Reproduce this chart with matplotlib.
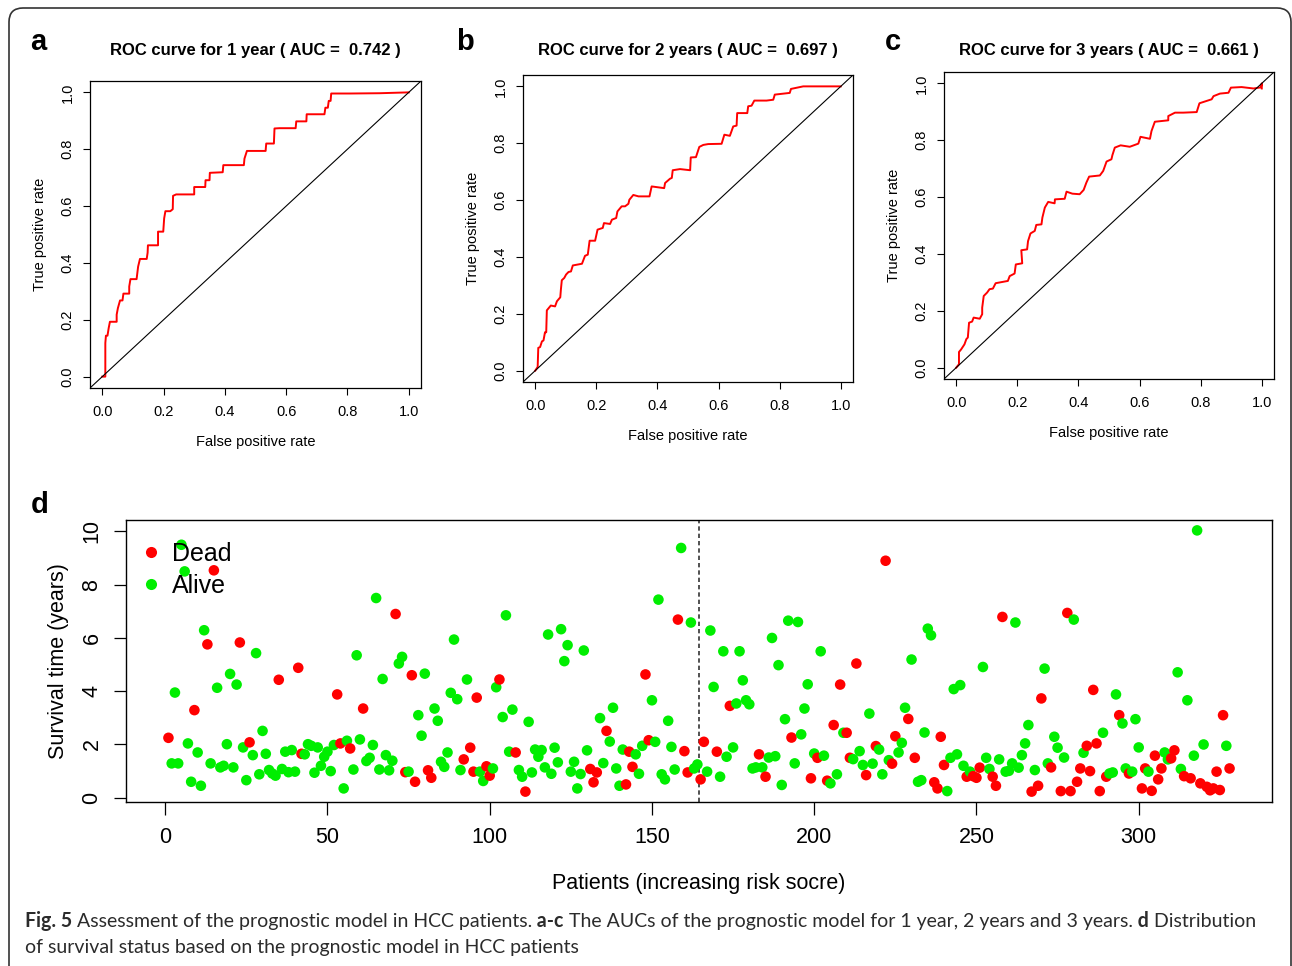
import matplotlib.pyplot as plt
import numpy as np
from matplotlib.lines import Line2D
from matplotlib.patches import FancyBboxPatch
from matplotlib.transforms import IdentityTransform

plt.rcParams["font.family"] = ["Liberation Sans", "DejaVu Sans"]

# ROC curves (a-c)
roc1_fpr = [0.0, 0.01, 0.01, 0.012, 0.017, 0.021, 0.025, 0.047, 0.047, 0.051, 0.058, 0.066, 0.069, 0.088,
            0.088, 0.092, 0.112, 0.117, 0.123, 0.145, 0.148, 0.149, 0.182, 0.182, 0.199, 0.202, 0.206,
            0.222, 0.230, 0.231, 0.241, 0.300, 0.300, 0.336, 0.337, 0.350, 0.351, 0.393, 0.395, 0.462,
            0.464, 0.472, 0.533, 0.535, 0.560, 0.562, 0.578, 0.631, 0.633, 0.666, 0.667, 0.725, 0.728,
            0.736, 0.739, 0.745, 0.747, 0.807, 0.905, 1.0]
roc1_tpr = [0.0, 0.0, 0.118, 0.144, 0.144, 0.171, 0.193, 0.193, 0.218, 0.241, 0.268, 0.268, 0.292, 0.292,
            0.317, 0.343, 0.343, 0.387, 0.414, 0.414, 0.436, 0.462, 0.462, 0.510, 0.510, 0.557, 0.582,
            0.582, 0.589, 0.636, 0.641, 0.641, 0.667, 0.667, 0.691, 0.691, 0.717, 0.719, 0.744, 0.744,
            0.767, 0.794, 0.794, 0.820, 0.820, 0.873, 0.874, 0.874, 0.898, 0.898, 0.923, 0.923, 0.946,
            0.946, 0.970, 0.970, 0.996, 0.996, 0.997, 1.0]

roc2_fpr = [0.0, 0.008, 0.010, 0.016, 0.022, 0.027, 0.032, 0.036, 0.038, 0.051, 0.065, 0.071, 0.082, 0.084,
            0.087, 0.095, 0.101, 0.109, 0.117, 0.123, 0.153, 0.163, 0.172, 0.178, 0.196, 0.204, 0.221,
            0.225, 0.245, 0.251, 0.265, 0.269, 0.283, 0.294, 0.305, 0.308, 0.321, 0.338, 0.374, 0.381,
            0.422, 0.425, 0.441, 0.447, 0.450, 0.474, 0.507, 0.509, 0.526, 0.537, 0.550, 0.566, 0.610,
            0.619, 0.637, 0.648, 0.659, 0.661, 0.694, 0.697, 0.708, 0.717, 0.757, 0.779, 0.784, 0.833,
            0.837, 0.877, 1.0]
roc2_tpr = [0.0, 0.013, 0.080, 0.083, 0.103, 0.106, 0.135, 0.135, 0.212, 0.229, 0.226, 0.244, 0.258, 0.285,
            0.318, 0.326, 0.338, 0.347, 0.349, 0.370, 0.376, 0.404, 0.408, 0.457, 0.457, 0.496, 0.502,
            0.519, 0.516, 0.531, 0.537, 0.560, 0.578, 0.578, 0.587, 0.601, 0.618, 0.613, 0.613, 0.648,
            0.642, 0.660, 0.675, 0.678, 0.705, 0.709, 0.705, 0.750, 0.751, 0.787, 0.794, 0.797, 0.798,
            0.830, 0.826, 0.859, 0.862, 0.906, 0.906, 0.930, 0.932, 0.950, 0.950, 0.953, 0.971, 0.977,
            0.991, 1.0, 1.0]

roc3_fpr = [0.0, 0.009, 0.009, 0.016, 0.027, 0.033, 0.038, 0.042, 0.052, 0.057, 0.077, 0.085, 0.085, 0.090,
            0.101, 0.109, 0.120, 0.129, 0.169, 0.175, 0.191, 0.195, 0.216, 0.213, 0.232, 0.235, 0.243,
            0.257, 0.262, 0.279, 0.282, 0.290, 0.301, 0.322, 0.323, 0.355, 0.361, 0.380, 0.404, 0.417,
            0.426, 0.435, 0.470, 0.481, 0.492, 0.508, 0.511, 0.519, 0.538, 0.568, 0.596, 0.603, 0.634,
            0.639, 0.650, 0.694, 0.694, 0.716, 0.743, 0.787, 0.796, 0.836, 0.842, 0.863, 0.891, 0.899,
            0.934, 0.973, 0.997, 1.0, 1.0]
roc3_tpr = [0.0, 0.012, 0.055, 0.064, 0.082, 0.100, 0.106, 0.158, 0.162, 0.176, 0.172, 0.188, 0.211, 0.252,
            0.264, 0.276, 0.278, 0.297, 0.305, 0.322, 0.331, 0.363, 0.367, 0.413, 0.416, 0.445, 0.472,
            0.481, 0.502, 0.504, 0.528, 0.563, 0.583, 0.578, 0.592, 0.594, 0.619, 0.612, 0.610, 0.625,
            0.651, 0.672, 0.676, 0.692, 0.725, 0.733, 0.747, 0.774, 0.782, 0.777, 0.788, 0.812, 0.805,
            0.832, 0.865, 0.870, 0.885, 0.897, 0.897, 0.899, 0.930, 0.944, 0.955, 0.964, 0.967, 0.985,
            0.987, 0.982, 0.986, 1.0, 0.982]

roc_titles = [
    "ROC curve for 1 year ( AUC =  0.742 )",
    "ROC curve for 2 years ( AUC =  0.697 )",
    "ROC curve for 3 years ( AUC =  0.661 )",
]
roc_ticks = [0.0, 0.2, 0.4, 0.6, 0.8, 1.0]

# survival time per patient, ordered by increasing risk score (d)
survival_time = [
    2.25, 1.29, 3.95, 1.29, 9.5, 8.5, 2.04, 0.6, 3.29, 1.7,
    0.45, 6.29, 5.76, 1.29, 8.54, 4.13, 1.14, 1.2, 2.01, 4.65,
    1.14, 4.25, 5.83, 1.89, 0.66, 2.08, 1.6, 5.43, 0.88, 2.51,
    1.65, 1.04, 0.91, 0.83, 4.43, 1.08, 1.73, 0.96, 1.79, 0.98,
    4.88, 1.65, 1.63, 2.01, 1.95, 0.94, 1.89, 1.2, 1.54, 1.73,
    1.0, 1.98, 3.88, 2.04, 0.35, 2.14, 1.85, 1.06, 5.35, 2.19,
    3.35, 1.38, 1.5, 1.98, 7.5, 1.06, 4.46, 1.6, 1.03, 1.39,
    6.9, 5.04, 5.29, 0.96, 0.98, 4.6, 0.6, 3.1, 2.33, 4.66,
    1.03, 0.75, 3.35, 2.89, 1.35, 1.16, 1.7, 3.94, 5.94, 3.7,
    1.04, 1.44, 4.44, 1.88, 0.98, 3.76, 0.98, 0.63, 1.18, 0.83,
    1.1, 4.15, 4.44, 3.03, 6.85, 1.73, 3.31, 1.7, 1.04, 0.79,
    0.23, 2.85, 0.95, 1.81, 1.54, 1.79, 1.14, 6.13, 0.9, 1.88,
    1.33, 6.33, 5.13, 5.73, 0.98, 1.35, 0.35, 0.89, 5.53, 1.78,
    1.08, 0.58, 0.95, 2.99, 1.3, 2.51, 2.11, 3.38, 1.1, 0.45,
    1.81, 0.5, 1.73, 1.16, 1.63, 0.9, 1.95, 4.63, 2.16, 3.66,
    2.1, 7.44, 0.88, 0.69, 2.89, 1.91, 1.06, 6.69, 9.38, 1.75,
    0.95, 6.58, 1.1, 1.25, 0.69, 2.1, 0.98, 6.28, 4.16, 1.73,
    0.79, 5.5, 1.54, 3.45, 1.89, 3.54, 5.5, 4.41, 3.66, 3.51,
    1.1, 1.14, 1.63, 1.14, 0.79, 1.51, 6.0, 1.56, 4.98, 0.48,
    2.95, 6.65, 2.26, 1.29, 6.6, 2.38, 3.35, 4.26, 0.73, 1.66,
    1.5, 5.5, 1.58, 0.64, 0.54, 2.73, 0.88, 4.25, 2.44, 2.44,
    1.5, 1.45, 5.04, 1.75, 1.23, 0.85, 3.16, 1.28, 1.94, 1.81,
    0.88, 8.9, 1.41, 1.28, 2.31, 1.7, 2.06, 3.38, 2.96, 5.19,
    1.5, 0.6, 0.66, 2.45, 6.35, 6.1, 0.58, 0.35, 2.29, 1.23,
    0.25, 1.5, 4.08, 1.63, 4.23, 1.2, 0.79, 0.98, 0.81, 0.75,
    1.13, 4.91, 1.5, 1.08, 0.79, 0.45, 1.44, 6.79, 0.98, 1.01,
    1.29, 6.58, 1.13, 1.6, 2.04, 2.73, 0.23, 1.04, 0.45, 3.73,
    4.85, 1.29, 1.14, 2.29, 1.88, 0.25, 1.51, 6.94, 0.25, 6.69,
    0.6, 1.1, 1.69, 1.95, 1.0, 4.05, 2.04, 0.25, 2.44, 0.79,
    0.91, 0.95, 3.88, 3.1, 2.79, 1.1, 0.91, 0.98, 2.95, 1.89,
    0.35, 1.1, 0.98, 0.26, 1.58, 0.69, 1.1, 1.7, 1.44, 1.48,
    1.78, 4.71, 1.08, 0.81, 3.66, 0.73, 1.58, 10.04, 0.54, 2.0,
    0.41, 0.28, 0.35, 0.98, 0.29, 3.1, 1.95, 1.1,
]
# 1 = dead, 0 = alive
dead = [
    1, 0, 0, 0, 0, 0, 0, 0, 1, 0,
    0, 0, 1, 0, 1, 0, 0, 0, 0, 0,
    0, 0, 1, 0, 0, 1, 0, 0, 0, 0,
    0, 0, 0, 0, 1, 0, 0, 0, 0, 0,
    1, 1, 0, 0, 0, 0, 0, 0, 0, 0,
    0, 0, 1, 1, 0, 0, 1, 0, 0, 0,
    1, 0, 0, 0, 0, 0, 0, 0, 0, 0,
    1, 0, 0, 1, 0, 1, 1, 0, 0, 0,
    1, 1, 0, 0, 0, 0, 0, 0, 0, 0,
    0, 1, 0, 1, 1, 1, 0, 0, 1, 1,
    0, 0, 1, 0, 0, 0, 0, 1, 0, 0,
    1, 0, 0, 0, 0, 0, 0, 0, 0, 0,
    0, 0, 0, 0, 0, 0, 0, 0, 0, 0,
    1, 1, 1, 0, 0, 1, 0, 0, 0, 0,
    0, 1, 1, 1, 0, 0, 0, 1, 1, 0,
    0, 0, 0, 0, 0, 0, 0, 1, 0, 1,
    1, 0, 0, 0, 1, 1, 0, 0, 0, 1,
    0, 0, 0, 1, 0, 0, 0, 0, 0, 0,
    0, 0, 1, 0, 1, 0, 0, 0, 0, 0,
    0, 0, 1, 0, 0, 0, 0, 0, 1, 0,
    1, 0, 0, 1, 0, 1, 0, 1, 0, 1,
    1, 0, 1, 0, 0, 1, 0, 0, 1, 0,
    0, 1, 0, 1, 1, 0, 0, 0, 1, 0,
    1, 0, 0, 0, 0, 0, 1, 1, 1, 1,
    0, 0, 0, 0, 0, 0, 1, 0, 1, 1,
    1, 0, 0, 0, 1, 1, 0, 1, 0, 0,
    0, 0, 0, 0, 0, 0, 1, 0, 1, 1,
    0, 0, 1, 0, 0, 1, 0, 1, 1, 0,
    1, 1, 0, 1, 1, 1, 1, 1, 0, 1,
    0, 0, 0, 1, 0, 0, 1, 0, 0, 0,
    1, 1, 0, 1, 1, 1, 1, 0, 0, 1,
    1, 0, 0, 1, 0, 1, 0, 0, 1, 0,
    1, 1, 1, 1, 1, 1, 0, 1,
]
assert len(survival_time) == len(dead)

W, H = 1292, 966


def box(left, top, right, bottom):
    return [left / W, 1 - bottom / H, (right - left) / W, (bottom - top) / H]


fig = plt.figure(figsize=(W / 100, H / 100), dpi=100)

panels = [
    ("a", (38, 42), box(90, 81, 421, 388), roc1_fpr, roc1_tpr),
    ("b", (465, 42), box(523, 75, 853, 382), roc2_fpr, roc2_tpr),
    ("c", (893, 42), box(944, 72, 1274, 379), roc3_fpr, roc3_tpr),
]
for (letter, (lx, ly), pos, fpr, tpr), title in zip(panels, roc_titles):
    ax = fig.add_axes(pos)
    ax.plot(fpr, tpr, color="red", lw=1.4)
    ax.axline((0, 0), (1, 1), color="black", lw=0.8)
    ax.set_xlim(-0.04, 1.04)
    ax.set_ylim(-0.04, 1.04)
    ax.set_xticks(roc_ticks, [f"{t:.1f}" for t in roc_ticks])
    ax.set_yticks(roc_ticks, [f"{t:.1f}" for t in roc_ticks])
    ax.tick_params(direction="out", length=5, width=0.8, labelsize=10.5, pad=7)
    ax.tick_params(axis="y", labelrotation=90, pad=6)
    for lab in ax.get_yticklabels():
        lab.set_va("center")
    for sp in ax.spines.values():
        sp.set_linewidth(0.9)
    ax.set_xlabel("False positive rate", fontsize=10.5, labelpad=12)
    ax.set_ylabel("True positive rate", fontsize=10.5, labelpad=10)
    fig.text(pos[0] + pos[2] / 2, 1 - 50 / H, title, ha="center", va="center",
             fontsize=12, fontweight="bold")
    fig.text(lx / W, 1 - ly / H, letter, ha="center", va="center", fontsize=21, fontweight="bold")

# survival status scatter
patients = np.arange(1, len(survival_time) + 1)
dead = np.array(dead)
colors = np.where(dead == 1, "#FF0000", "#00EE00")

ax = fig.add_axes(box(126, 520, 1272, 802))
ax.scatter(patients, survival_time, c=colors, s=58, linewidths=0, zorder=3)
ax.axvline(len(patients) / 2 + 0.5, color="#333333", lw=1.2, ls=(0, (2.6, 1.8)))
ax.set_xlim(-12.08, 341.08)
ax.set_ylim(-0.16, 10.43)
ax.set_xticks(range(0, 301, 50))
ax.set_yticks(range(0, 11, 2))
ax.tick_params(direction="out", length=9, width=0.9, labelsize=15.5, pad=9)
ax.tick_params(axis="y", labelrotation=90, pad=8)
for lab in ax.get_yticklabels():
    lab.set_va("center")
for sp in ax.spines.values():
    sp.set_linewidth(1.0)
ax.set_xlabel("Patients (increasing risk socre)", fontsize=15.5, labelpad=18)
ax.set_ylabel("Survival time (years)", fontsize=15.5, labelpad=9)
handles = [
    Line2D([], [], ls="none", marker="o", markersize=8, markeredgewidth=0, color="#FF0000"),
    Line2D([], [], ls="none", marker="o", markersize=8, markeredgewidth=0, color="#00EE00"),
]
ax.legend(handles, ["Dead", "Alive"], loc="upper left", bbox_to_anchor=(0, 0.975), frameon=False,
          fontsize=18, handlelength=0.8, handletextpad=0.45, labelspacing=0.32,
          borderaxespad=0.3, borderpad=0.3)
fig.text(40 / W, 1 - 505 / H, "d", ha="center", va="center", fontsize=21, fontweight="bold")

# caption
renderer = fig.canvas.get_renderer()


def draw_runs(x, y, runs):
    for text, weight in runs:
        t = fig.text(x / W, 1 - y / H, text, fontweight=weight, fontsize=14.05,
                     family=["Lato", "DejaVu Sans"], color="#2b2b2b", va="baseline")
        x += t.get_window_extent(renderer).width


draw_runs(25, 927, [
    ("Fig. 5", "bold"),
    (" Assessment of the prognostic model in HCC patients.", "normal"),
    (" a-c", "bold"),
    (" The AUCs of the prognostic model for 1 year, 2 years and 3 years.", "normal"),
    (" d", "bold"),
    (" Distribution", "normal"),
])
draw_runs(25, 953, [("of survival status based on the prognostic model in HCC patients", "normal")])

frame = FancyBboxPatch((9, -30), 1282, 988, boxstyle="round,pad=0,rounding_size=14",
                       transform=IdentityTransform(), fill=False, ec="#333333", lw=1.2)
fig.add_artist(frame)

fig.savefig("out.png", dpi=100)
